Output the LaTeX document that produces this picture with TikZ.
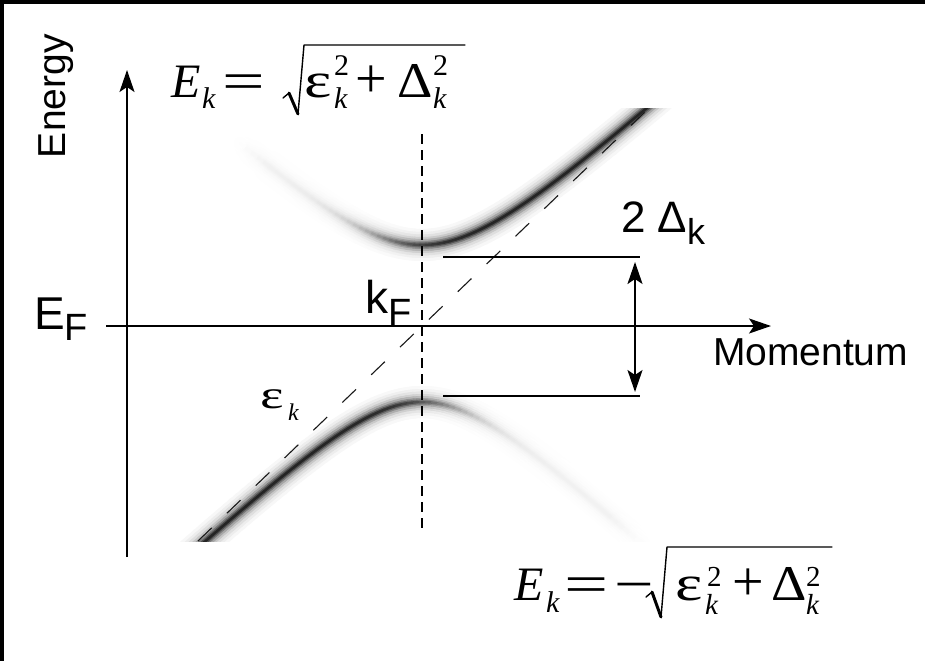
\documentclass[tikz,border=0pt]{standalone}
\usepackage{fontspec}
\setmainfont{Liberation Sans}
\newfontfamily\tnr{Liberation Serif}
\usepackage{graphicx}
\usetikzlibrary{arrows.meta}
\newcommand\fsz[1]{\fontsize{#1pt}{#1pt}\selectfont}
\tikzset{
  txt/.style={inner sep=0pt, outer sep=0pt, anchor=base west},
  axisline/.style={line width=2pt, -{Stealth[length=22pt,width=15pt,inset=5pt]}},
  gapline/.style={line width=2pt},
  dimline/.style={line width=2pt, {Stealth[length=22pt,width=15pt,inset=5pt]}-{Stealth[length=22pt,width=15pt,inset=5pt]}},
  kfline/.style={line width=1.3pt, dash pattern=on 10pt off 6pt},
  epsline/.style={line width=1.1pt, black!90, dash pattern=on 19pt off 21pt},
  radthin/.style={line width=1.4pt, line cap=round, line join=round},
  radthick/.style={line width=3pt, line cap=round},
}
\begin{document}
\begin{tikzpicture}[x=1pt,y=-1pt]
\useasboundingbox (0,0) rectangle (925,661);
\fill[white] (0,0) rectangle (925,661);
\fill[black] (0,0) rectangle (925,4);
\fill[black] (0,0) rectangle (4,661);

% ---------- blurred bands ----------
\begin{scope}
\clip (150,108) rectangle (690,541);
% upper band (weak left, strong right)
\foreach \w/\d in {32/3,26/7,21/13,16/22,12/35,8/52,5/70,2.5/86} {
  \foreach \xa in {240,246,...,684} {
    \pgfmathsetmacro\xb{\xa+6}
    \pgfmathsetmacro\ya{326-100*veclen(0.009*(\xa-422),0.81)}
    \pgfmathsetmacro\yb{326-100*veclen(0.009*(\xb-422),0.81)}
    \pgfmathsetmacro\I{(0.06+0.94/(1+exp(-(\xa+3-385)/22)))*min(1,(\xa-236)/30)}
    \pgfmathsetmacro\c{\d*\I}
    \draw[line width=\w pt, line cap=round, draw=black!\c] (\xa,\ya) -- (\xb,\yb);
  }
}
% lower band (strong left, weak right)
\foreach \w/\d in {32/3,26/7,21/13,16/22,12/35,8/52,5/70,2.5/86} {
  \foreach \xa in {150,156,...,636} {
    \pgfmathsetmacro\xb{\xa+6}
    \pgfmathsetmacro\ya{326+100*veclen(0.0093*(\xa-422),0.76)}
    \pgfmathsetmacro\yb{326+100*veclen(0.0093*(\xb-422),0.76)}
    \pgfmathsetmacro\I{(0.06+0.94/(1+exp((\xa+3-445)/22)))*min(1,(646-\xa)/40)}
    \pgfmathsetmacro\c{\d*\I}
    \draw[line width=\w pt, line cap=round, draw=black!\c] (\xa,\ya) -- (\xb,\yb);
  }
}
\end{scope}

% ---------- coordinates ----------
\coordinate (yb) at (127,557);
\coordinate (yt) at (127,70);
\coordinate (xl) at (106,326);
\coordinate (xr) at (771,326);
\coordinate (kt) at (422,134);
\coordinate (kb) at (422,533);
\coordinate (eb) at (198,541);
\coordinate (et) at (645,112);
\coordinate (g1l) at (443,257);
\coordinate (g1r) at (640,257);
\coordinate (g2l) at (443,396);
\coordinate (g2r) at (640,396);
\coordinate (da) at (635,262);
\coordinate (db) at (635,392);

% ---------- lines ----------
\draw[kfline] (kt) -- (kb);
\draw[epsline] (eb) -- (et);
\draw[axisline] (yb) -- (yt);
\draw[axisline] (xl) -- (xr);
\draw[gapline] (g1l) -- (g1r);
\draw[gapline] (g2l) -- (g2r);
\draw[dimline] (da) -- (db);

% ---------- labels ----------
\node[txt, rotate=90] (energy) at (65,158) {\fsz{39}Energy};
\node[txt] (ef) at (34,329) {\fsz{46}E\raisebox{-11pt}{\fsz{38}F}};
\node[txt] (kf) at (365,313) {\fsz{46}k\raisebox{-12pt}{\fsz{38}F}};
\node[txt] (gap) at (621,232) {\fsz{44}2 Δ\raisebox{-12pt}{\fsz{36}k}};
\node[txt] (mom) at (713,365) {\fsz{39}Momentum};
\node[txt] (epsl) at (260,408) {\tnr\fsz{40}\scalebox{1.4}[1]{ε}};
\node[txt] (epsk) at (288,420) {\tnr\itshape\fsz{24}k};

% ---------- top formula ----------
\node[txt] (tE) at (171,97) {\tnr\itshape\fsz{48}E};
\node[txt] (tEk) at (202,108) {\tnr\itshape\fsz{30}k};
\node[txt] (teq) at (222,99) {\tnr\fsz{54}\scalebox{1.4}[1]{=}};
\coordinate (tr1) at (283,98);
\coordinate (tr2) at (289,93);
\coordinate (tr3) at (298,114);
\coordinate (tr4) at (304,45);
\coordinate (tr5) at (465,45);
\draw[radthin] (tr1) -- (tr2);
\draw[radthick] (tr2) -- (tr3);
\draw[radthin] (tr3) -- (tr4) -- (tr5);
\node[txt] (teps) at (304,97) {\tnr\fsz{50}\scalebox{1.3}[1]{ε}};
\node[txt] (tsq1) at (334,75) {\tnr\fsz{30}2};
\node[txt] (tk1) at (334,108) {\tnr\itshape\fsz{30}k};
\node[txt] (tplus) at (355,97) {\tnr\fsz{56}+};
\node[txt] (tDel) at (397,97) {\tnr\fsz{50}\scalebox{1.1}[1]{Δ}};
\node[txt] (tsq2) at (433,75) {\tnr\fsz{30}2};
\node[txt] (tk2) at (433,108) {\tnr\itshape\fsz{30}k};

% ---------- bottom formula ----------
\node[txt] (bE) at (514,600) {\tnr\itshape\fsz{48}E};
\node[txt] (bEk) at (546,612) {\tnr\itshape\fsz{30}k};
\node[txt] (beq) at (564,602) {\tnr\fsz{54}\scalebox{1.45}[1]{=}};
\node[txt] (bmin) at (614,602) {\tnr\fsz{54}\scalebox{1.3}[1]{−}};
\coordinate (br1) at (646,597);
\coordinate (br2) at (652,592);
\coordinate (br3) at (661,617);
\coordinate (br4) at (667,547);
\coordinate (br5) at (832,547);
\draw[radthin] (br1) -- (br2);
\draw[radthick] (br2) -- (br3);
\draw[radthin] (br3) -- (br4) -- (br5);
\node[txt] (beps) at (675,600) {\tnr\fsz{50}\scalebox{1.3}[1]{ε}};
\node[txt] (bsq1) at (707,586) {\tnr\fsz{29}2};
\node[txt] (bk1) at (705,614) {\tnr\itshape\fsz{29}k};
\node[txt] (bplus) at (732,600) {\tnr\fsz{56}+};
\node[txt] (bDel) at (771,600) {\tnr\fsz{50}\scalebox{1.1}[1]{Δ}};
\node[txt] (bsq2) at (806,586) {\tnr\fsz{29}2};
\node[txt] (bk2) at (806,614) {\tnr\itshape\fsz{29}k};
\end{tikzpicture}
\end{document}
